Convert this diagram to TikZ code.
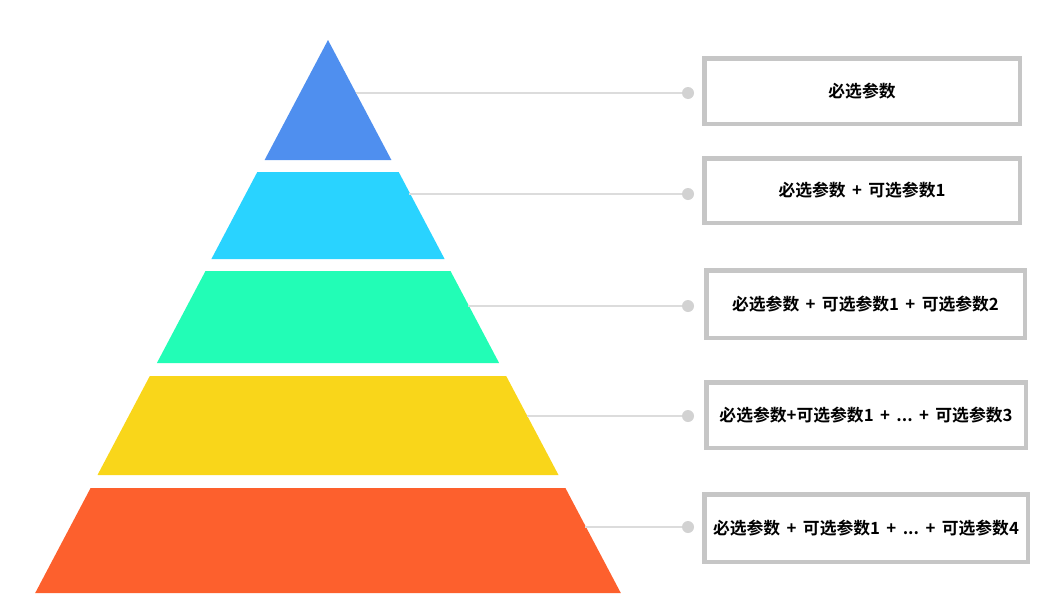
\documentclass[tikz,border=0pt]{standalone}
\usepackage{fontspec}
\setmainfont{Noto Sans CJK SC}[BoldFont={Noto Sans CJK SC Bold}]
\newcommand{\pl}{\hspace{0.38em}+\hspace{0.38em}}
\begin{document}
\begin{tikzpicture}[x=1pt,y=-1pt,
  lbox/.style={draw=boxgray,line width=4.5pt,fill=white,inner sep=0pt,font=\fontsize{16.8}{18}\selectfont\bfseries},
  ldot/.style={circle,fill=dotgray,inner sep=0pt,minimum size=12pt},
  lline/.style={draw=linegray,line width=1.3pt}]
\definecolor{boxgray}{HTML}{C6C6C6}
\definecolor{dotgray}{HTML}{D2D2D2}
\definecolor{linegray}{HTML}{DCDCDC}
\definecolor{cblue}{HTML}{4F8FEF}
\definecolor{ccyan}{HTML}{29D3FF}
\definecolor{cgreen}{HTML}{22FDB6}
\definecolor{cyellow}{HTML}{F9D61A}
\definecolor{corange}{HTML}{FD602D}
\useasboundingbox (0,0) rectangle (1038,600);
% pyramid layers
\fill[cblue] (328,40) -- (391.4,160) -- (264.6,160) -- cycle;
\fill[ccyan] (257.3,172) -- (398.7,172) -- (444.6,259) -- (211.4,259) -- cycle;
\fill[cgreen] (205.5,271) -- (450.5,271) -- (499.1,363) -- (156.9,363) -- cycle;
\fill[cyellow] (149.8,376) -- (506.2,376) -- (558.5,475) -- (97.5,475) -- cycle;
\fill[corange] (90.6,488) -- (565.4,488) -- (620.8,593) -- (35.2,593) -- cycle;
% line starts
\coordinate (s1) at (356,93);
\coordinate (s2) at (409.3,194);
\coordinate (s3) at (468.4,306);
\coordinate (s4) at (526.5,416);
\coordinate (s5) at (585.1,527);
% dots
\node[ldot] (d1) at (688,93) {};
\node[ldot] (d2) at (688,194) {};
\node[ldot] (d3) at (688,306) {};
\node[ldot] (d4) at (688,416) {};
\node[ldot] (d5) at (688,527) {};
\draw[lline] (s1) -- (d1);
\draw[lline] (s2) -- (d2);
\draw[lline] (s3) -- (d3);
\draw[lline] (s4) -- (d4);
\draw[lline] (s5) -- (d5);
% boxes
\node[lbox,minimum width=315.5pt,minimum height=65.5pt] (b1) at (862,91) {必选参数};
\node[lbox,minimum width=315.5pt,minimum height=64.5pt] (b2) at (862,190.5) {必选参数\pl 可选参数1};
\node[lbox,minimum width=318.5pt,minimum height=67.5pt] (b3) at (865.5,304) {必选参数\pl 可选参数1\pl 可选参数2};
\node[lbox,minimum width=319.5pt,minimum height=65.5pt] (b4) at (866,415) {必选参数+可选参数1\pl ...\pl 可选参数3};
\node[lbox,minimum width=323.5pt,minimum height=67.5pt] (b5) at (866,528) {必选参数\pl 可选参数1\pl ...\pl 可选参数4};
\end{tikzpicture}
\end{document}
